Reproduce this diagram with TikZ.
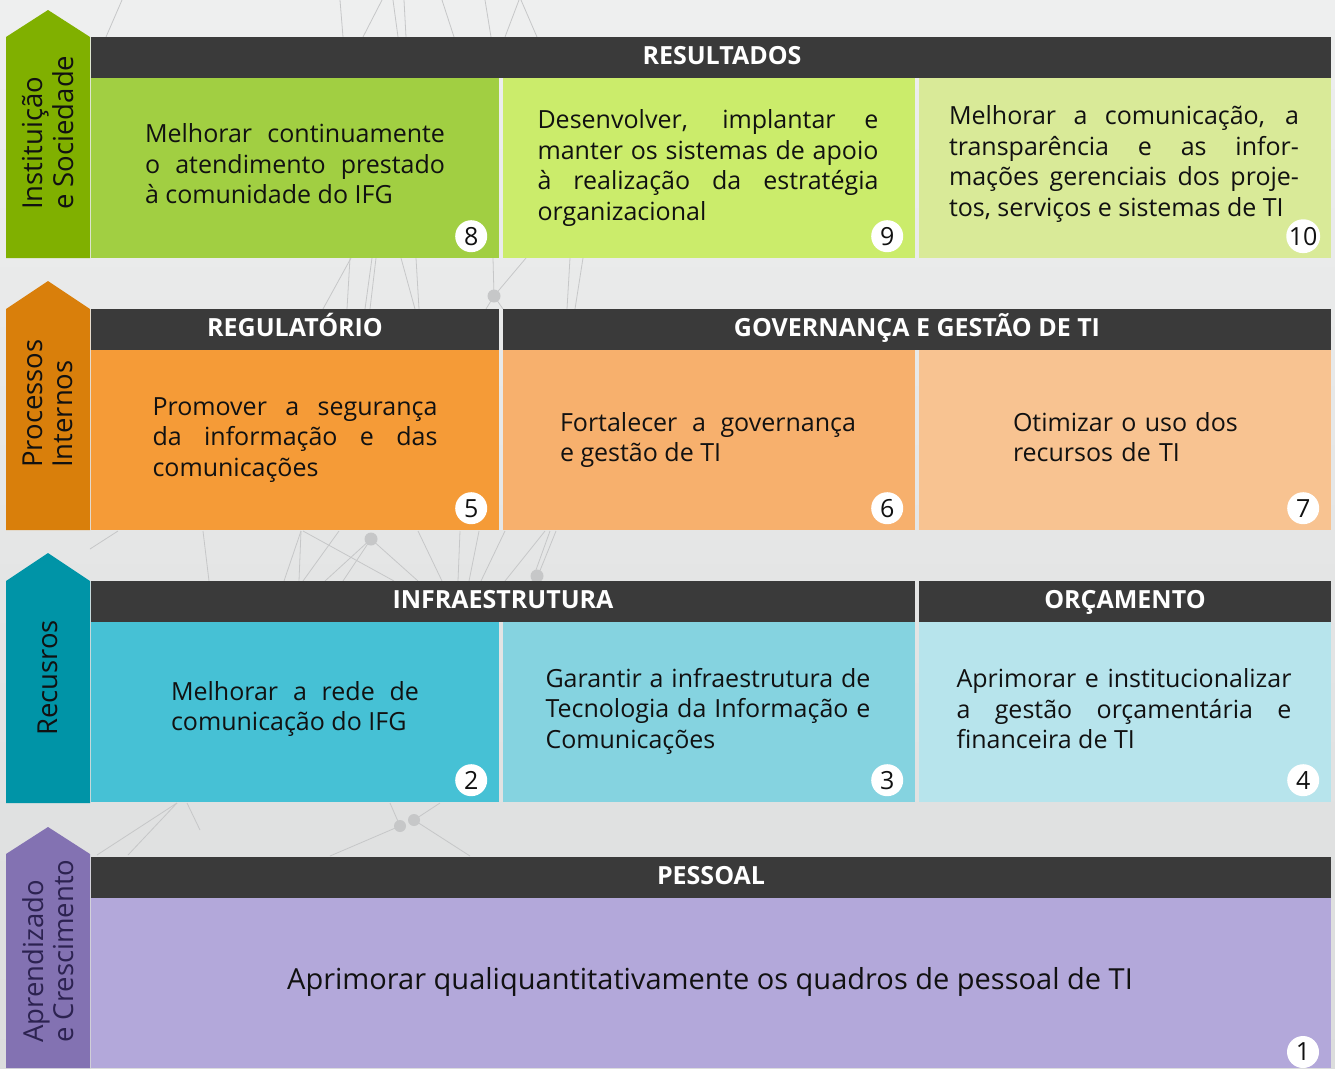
\documentclass[tikz,border=0pt]{standalone}
\usepackage{fontspec}
\setmainfont{Open Sans}
\definecolor{bgtop}{HTML}{EEEFEF}
\definecolor{bgbot}{HTML}{DCDDDD}
\definecolor{webcol}{HTML}{C6C7C8}
\definecolor{hdrgray}{HTML}{3A3A3A}
\definecolor{txtcol}{HTML}{111111}
\definecolor{pA}{HTML}{80B000}
\definecolor{cAa}{HTML}{A1CF42}
\definecolor{cAb}{HTML}{CBEC6B}
\definecolor{cAc}{HTML}{D9EA98}
\definecolor{pB}{HTML}{D97F0B}
\definecolor{cBa}{HTML}{F59B37}
\definecolor{cBb}{HTML}{F7B06D}
\definecolor{cBc}{HTML}{F8C391}
\definecolor{pC}{HTML}{0094A7}
\definecolor{cCa}{HTML}{46C1D5}
\definecolor{cCb}{HTML}{85D3E0}
\definecolor{cCc}{HTML}{B7E4EC}
\definecolor{pD}{HTML}{8372B2}
\definecolor{cDa}{HTML}{B3A8DA}
\definecolor{pDtxt}{HTML}{2C2250}
\newcommand{\bodyfnt}{\fontsize{25}{30.5}\selectfont}
\newcommand{\bigfnt}{\fontsize{29}{32}\selectfont}
\newcommand{\hdrfnt}{\fontsize{25}{28}\selectfont\bfseries}
\newcommand{\pilfnt}{\fontsize{27.5}{30.5}\selectfont}
\newcommand{\numfnt}{\fontsize{25}{28}\selectfont}
\begin{document}
\begin{tikzpicture}[x=1pt,y=-1pt,
  hdr/.style={fill=hdrgray, draw=none, text=white, font=\hdrfnt, inner sep=0pt, minimum height=41pt, text height=17pt, text depth=3pt},
  cellbox/.style={draw=none, inner sep=0pt, minimum height=180pt},
  txt/.style={font=\bodyfnt, align=justify, text=txtcol, inner sep=0pt},
  txtl/.style={font=\bodyfnt, align=left, text=txtcol, inner sep=0pt},
  num/.style={circle, fill=white, inner sep=0pt, minimum size=32pt, font=\numfnt, text=txtcol},
  piltxt/.style={font=\pilfnt, align=left, rotate=90, anchor=west, inner sep=0pt},
  web/.style={draw=webcol, line width=0.8pt},
  webdot/.style={fill=webcol}]
\useasboundingbox (0,0) rectangle (1335,1068);
\shade[top color=bgtop, bottom color=bgbot] (0,0) rectangle (1335,1068);

% faint network in the background
\path[web] (106,37) -- (122,0);
\path[web] (343,37) -- (340,0);
\path[web] (363,37) -- (382,0);
\path[web] (398,37) -- (393,0);
\path[web] (406,37) -- (404,0);
\path[web] (454,37) -- (442,0);
\path[web] (491,37) -- (485,0);
\path[web] (505,37) -- (519,0);
\path[web] (537,37) -- (521,0);
\path[web] (323,309) -- (351,258);
\path[web] (347,309) -- (350,258);
\path[web] (365,309) -- (372,258);
\path[web] (370,309) -- (376,258);
\path[web] (415,309) -- (401,258);
\path[web] (419,309) -- (416,258);
\path[web] (494,296) -- (526,258);
\path[web] (494,296) -- (493,258);
\path[web] (494,296) -- (486,309);
\path[web] (494,296) -- (503,309);
\path[web] (567,309) -- (570,258);
\path[web] (575,309) -- (583,258);
\path[web] (90,549) -- (118,531);
\path[web] (203,531) -- (209,581);
\path[web] (301,531) -- (284,581);
\path[web] (301,531) -- (299,581);
\path[web] (303,531) -- (394,581);
\path[web] (371,539) -- (325,581);
\path[web] (371,539) -- (343,581);
\path[web] (371,539) -- (418,581);
\path[web] (339,531) -- (303,581);
\path[web] (418,531) -- (442,581);
\path[web] (460,531) -- (458,581);
\path[web] (479,531) -- (469,581);
\path[web] (505,531) -- (481,581);
\path[web] (545,531) -- (505,581);
\path[web] (556,531) -- (537,578);
\path[web] (550,531) -- (532,581);
\path[web] (97,855) -- (177,803);
\path[web] (128,855) -- (177,803);
\path[web] (187,803) -- (200,830);
\path[web] (400,826) -- (390,803);
\path[web] (414,820) -- (440,803);
\path[web] (400,826) -- (330,856);
\path[web] (414,820) -- (470,856);
\fill[webdot] (494,296) circle (6.5);
\fill[webdot] (371,539) circle (6.5);
\fill[webdot] (537,576) circle (6.5);
\fill[webdot] (400,826) circle (6);
\fill[webdot] (414,820) circle (6);

% pillars
\fill[pA] (6,258) -- (6,37) -- (48,10) -- (90,37) -- (90,258) -- cycle;
\fill[pB] (6,530) -- (6,309) -- (48,281) -- (90,309) -- (90,530) -- cycle;
\fill[pC] (6,803) -- (6,581) -- (48,553) -- (90,581) -- (90,803) -- cycle;
\fill[pD] (6,1068) -- (6,854) -- (48,827) -- (90,854) -- (90,1068) -- cycle;
\node[piltxt, text=txtcol] (pilA) at (48,210) {Instituição\\e Sociedade};
\node[piltxt, text=txtcol] (pilB) at (48,468) {Processos\\Internos};
\node[piltxt, text=txtcol] (pilC) at (48,736) {Recusros};
\node[piltxt, text=pDtxt] (pilD) at (48,1043) {Aprendizado\\e Crescimento};

% headers
\node[hdr, minimum width=1240pt] (hA) at (711,57.5) {\hspace*{22pt}RESULTADOS};
\node[hdr, minimum width=408pt] (hBa) at (295,329.5) {REGULATÓRIO};
\node[hdr, minimum width=828pt] (hBb) at (917,329.5) {GOVERNANÇA E GESTÃO DE TI};
\node[hdr, minimum width=824pt] (hCa) at (503,601.5) {INFRAESTRUTURA};
\node[hdr, minimum width=412pt] (hCb) at (1125,601.5) {ORÇAMENTO};
\node[hdr, minimum width=1240pt] (hD) at (711,877.5) {PESSOAL};

% row 1
\node[cellbox, fill=cAa, minimum width=408pt] (c8) at (295,168) {};
\node[cellbox, fill=cAb, minimum width=412pt] (c9) at (709,168) {};
\node[cellbox, fill=cAc, minimum width=412pt] (c10) at (1125,168) {};
\node[txt, text width=300pt] (t8) at (295,164) {Melhorar continuamente\linebreak o atendimento prestado\linebreak à comunidade do IFG};
\node[txt, text width=341pt] (t9) at (708,168) {Desenvolver, implantar e\linebreak manter os sistemas de apoio\linebreak à realização da estratégia\linebreak organizacional};
\node[txt, text width=350pt] (t10) at (1124,164) {Melhorar a comunicação, a\linebreak transparência e as infor-\linebreak mações gerenciais dos proje-\linebreak tos, serviços e sistemas de TI};
\node[num] (n8) at ([xshift=-28pt,yshift=22pt]c8.south east) {8};
\node[num] (n9) at ([xshift=-28pt,yshift=22pt]c9.south east) {9};
\node[num] (n10) at ([xshift=-28pt,yshift=22pt]c10.south east) {10};

% row 2
\node[cellbox, fill=cBa, minimum width=408pt] (c5) at (295,440) {};
\node[cellbox, fill=cBb, minimum width=412pt] (c6) at (709,440) {};
\node[cellbox, fill=cBc, minimum width=412pt] (c7) at (1125,440) {};
\node[txt, text width=285pt] (t5) at (295,440) {Promover a segurança\linebreak da informação e das\linebreak comunicações};
\node[txt, text width=296pt] (t6) at (708,440) {Fortalecer a governança\linebreak e gestão de TI};
\node[txtl, text width=260pt] (t7) at (1143,437) {Otimizar o uso dos\\recursos de TI};
\node[num] (n5) at ([xshift=-28pt,yshift=22pt]c5.south east) {5};
\node[num] (n6) at ([xshift=-28pt,yshift=22pt]c6.south east) {6};
\node[num] (n7) at ([xshift=-28pt,yshift=22pt]c7.south east) {7};

% row 3
\node[cellbox, fill=cCa, minimum width=408pt] (c2) at (295,712) {};
\node[cellbox, fill=cCb, minimum width=412pt] (c3) at (709,712) {};
\node[cellbox, fill=cCc, minimum width=412pt] (c4) at (1125,712) {};
\node[txt, text width=248pt] (t2) at (295,709) {Melhorar a rede de\linebreak comunicação do IFG};
\node[txt, text width=325pt] (t3) at (708,711) {Garantir a infraestrutura de\linebreak Tecnologia da Informação e\linebreak Comunicações};
\node[txt, text width=335pt] (t4) at (1124,709) {Aprimorar e institucionalizar\linebreak a gestão orçamentária e\linebreak financeira de TI};
\node[num] (n2) at ([xshift=-28pt,yshift=22pt]c2.south east) {2};
\node[num] (n3) at ([xshift=-28pt,yshift=22pt]c3.south east) {3};
\node[num] (n4) at ([xshift=-28pt,yshift=22pt]c4.south east) {4};

% row 4
\node[draw=none, inner sep=0pt, fill=cDa, minimum width=1240pt, minimum height=170pt] (c1) at (711,983) {};
\node[font=\bigfnt, text=txtcol, inner sep=0pt] (t1) at (710,982) {Aprimorar qualiquantitativamente os quadros de pessoal de TI};
\node[num] (n1) at (1303,1052) {1};
\end{tikzpicture}
\end{document}
